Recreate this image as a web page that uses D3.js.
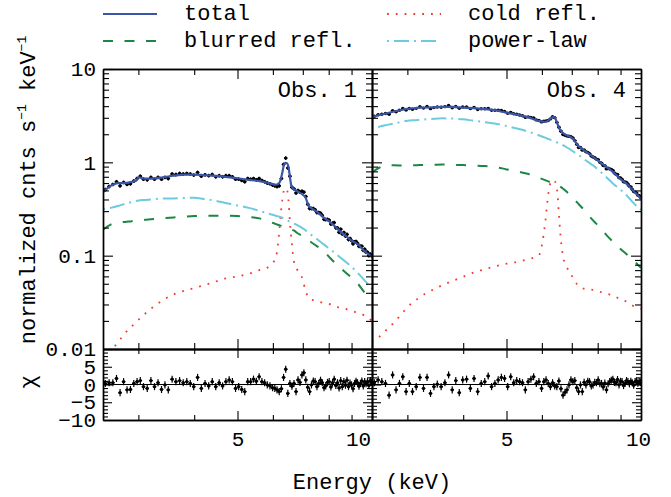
<!DOCTYPE html>
<html>
<head>
<meta charset="utf-8">
<title>Spectral fits: Obs. 1 and Obs. 4</title>
<script src="https://cdn.jsdelivr.net/npm/d3@7/dist/d3.min.js"></script>
<style>
  html, body { margin: 0; padding: 0; background: #ffffff; }
  svg { display: block; }
</style>
</head>
<body>
<svg id="chart" width="671" height="497"></svg>
<script>
// ---------------- data ----------------

// energy grid (keV) on which the model components are tabulated
const modelEnergy = [
  2.5, 2.6, 2.7, 2.8, 2.9, 2.97, 3.0, 3.1, 3.2, 3.4,
  3.6, 3.8, 4.0, 4.2, 4.4, 4.7, 5.0, 5.3, 5.6, 5.9,
  6.1, 6.2, 6.25, 6.3, 6.35, 6.4, 6.45, 6.5, 6.55, 6.6,
  6.7, 6.8, 7.0, 7.1, 7.2, 7.3, 7.5, 7.8, 8.1, 8.4,
  8.7, 9.0, 9.3, 9.6, 10.0
];

// Obs. 1 model components (normalized cnts s^-1 keV^-1)
const obs1Total = [
  0.48, 0.56, 0.60, 0.60, 0.62, 0.64, 0.69, 0.67, 0.67, 0.69,
  0.72, 0.74, 0.74, 0.73, 0.72, 0.70, 0.675, 0.65, 0.63, 0.596,
  0.575, 0.60, 0.66, 0.78, 0.93, 0.99, 0.98, 0.90, 0.70, 0.56,
  0.51, 0.49, 0.45, 0.42, 0.35, 0.325, 0.30, 0.255, 0.225, 0.19,
  0.165, 0.145, 0.132, 0.113, 0.097
];
const obs1PowerLaw = [
  0.315, 0.325, 0.34, 0.36, 0.375, 0.385, 0.39, 0.395, 0.40, 0.41,
  0.41, 0.415, 0.418, 0.405, 0.392, 0.367, 0.345, 0.325, 0.302, 0.28,
  0.267, 0.262, 0.258, 0.255, 0.25, 0.245, 0.24, 0.236, 0.232, 0.228,
  0.22, 0.212, 0.196, 0.187, 0.178, 0.168, 0.153, 0.132, 0.115, 0.10,
  0.087, 0.076, 0.065, 0.055, 0.044
];
const obs1Blurred = [
  0.19, 0.215, 0.225, 0.23, 0.234, 0.237, 0.238, 0.242, 0.245, 0.252,
  0.257, 0.262, 0.266, 0.268, 0.268, 0.268, 0.266, 0.26, 0.251, 0.23,
  0.218, 0.212, 0.21, 0.207, 0.204, 0.201, 0.198, 0.195, 0.193, 0.19,
  0.185, 0.175, 0.162, 0.155, 0.147, 0.140, 0.128, 0.112, 0.092, 0.078,
  0.067, 0.058, 0.050, 0.041, 0.034
];
const obs1Cold = [
  0.0078, 0.0095, 0.0118, 0.0148, 0.0175, 0.0195, 0.0205, 0.0237, 0.027, 0.0333,
  0.0385, 0.042, 0.045, 0.048, 0.0515, 0.057, 0.060, 0.064, 0.070, 0.077,
  0.098, 0.18, 0.28, 0.40, 0.50, 0.53, 0.51, 0.40, 0.231, 0.15,
  0.083, 0.071, 0.055, 0.042, 0.036, 0.034, 0.033, 0.031, 0.030, 0.028,
  0.027, 0.0255, 0.0245, 0.023, 0.020
];

// Obs. 4 model components
const obs4Total = [
  3.05, 3.21, 3.36, 3.50, 3.63, 3.72, 3.74, 3.80, 3.85, 3.88,
  3.93, 3.92, 3.86, 3.81, 3.74, 3.62, 3.40, 3.22, 3.03, 2.78,
  2.72, 2.80, 2.90, 2.98, 3.06, 3.06, 2.86, 2.60, 2.35, 2.22,
  2.05, 1.96, 1.83, 1.70, 1.55, 1.45, 1.32, 1.15, 1.00, 0.88,
  0.77, 0.66, 0.585, 0.50, 0.41
];
const obs4PowerLaw = [
  2.18, 2.41, 2.52, 2.60, 2.70, 2.77, 2.79, 2.83, 2.86, 2.92,
  2.96, 2.94, 2.89, 2.80, 2.72, 2.60, 2.45, 2.29, 2.13, 1.95,
  1.84, 1.78, 1.75, 1.73, 1.70, 1.67, 1.65, 1.63, 1.60, 1.58,
  1.52, 1.46, 1.34, 1.28, 1.22, 1.17, 1.06, 0.93, 0.80, 0.68,
  0.58, 0.51, 0.44, 0.37, 0.31
];
const obs4Blurred = [
  0.78, 0.88, 0.935, 0.93, 0.925, 0.922, 0.925, 0.93, 0.935, 0.94,
  0.95, 0.94, 0.935, 0.925, 0.915, 0.895, 0.84, 0.795, 0.75, 0.685,
  0.645, 0.625, 0.615, 0.605, 0.595, 0.588, 0.578, 0.57, 0.563, 0.55,
  0.52, 0.49, 0.425, 0.395, 0.37, 0.345, 0.30, 0.24, 0.20, 0.163,
  0.138, 0.118, 0.103, 0.09, 0.074
];
const obs4Cold = [
  0.0118, 0.0136, 0.0162, 0.0192, 0.0232, 0.0265, 0.028, 0.032, 0.036, 0.0425,
  0.0485, 0.054, 0.0595, 0.0655, 0.070, 0.0765, 0.082, 0.086, 0.092, 0.10,
  0.22, 0.45, 0.57, 0.62, 0.65, 0.63, 0.596, 0.47, 0.28, 0.17,
  0.095, 0.078, 0.061, 0.054, 0.049, 0.046, 0.044, 0.043, 0.041, 0.039,
  0.037, 0.034, 0.032, 0.029, 0.027
];

// spectral bins (keV) for the measured points
const binEnergy = [
  2.53, 2.58, 2.63, 2.68, 2.73, 2.78, 2.83, 2.88, 2.93, 2.98,
  3.03, 3.08, 3.14, 3.20, 3.26, 3.32, 3.38, 3.44, 3.50, 3.57,
  3.64, 3.71, 3.78, 3.85, 3.92, 3.99, 4.07, 4.15, 4.23, 4.31,
  4.39, 4.47, 4.55, 4.63, 4.71, 4.79, 4.87, 4.95, 5.03, 5.11,
  5.19, 5.27, 5.35, 5.43, 5.51, 5.59, 5.67, 5.75, 5.83, 5.91,
  5.99, 6.06, 6.13, 6.20, 6.27, 6.34, 6.41, 6.48, 6.55, 6.62,
  6.69, 6.76, 6.83, 6.90, 6.97, 7.04, 7.11, 7.18, 7.25, 7.32,
  7.39, 7.46, 7.53, 7.60, 7.67, 7.74, 7.81, 7.88, 7.95, 8.02,
  8.09, 8.16, 8.23, 8.30, 8.37, 8.44, 8.51, 8.58, 8.65, 8.72,
  8.79, 8.86, 8.93, 9.00, 9.07, 9.14, 9.21, 9.28, 9.35, 9.42,
  9.49, 9.56, 9.63, 9.70, 9.77, 9.84, 9.91, 9.98
];

// Obs. 1 measured spectrum and residuals (chi)
const obs1Flux = [
  0.51, 0.55, 0.58, 0.62, 0.56, 0.61, 0.58, 0.59, 0.63, 0.67,
  0.71, 0.66, 0.65, 0.69, 0.66, 0.69, 0.66, 0.69, 0.67, 0.75,
  0.74, 0.76, 0.75, 0.76, 0.75, 0.73, 0.78, 0.71, 0.735, 0.72,
  0.74, 0.70, 0.72, 0.70, 0.72, 0.72, 0.70, 0.66, 0.66, 0.64,
  0.62, 0.67, 0.66, 0.67, 0.65, 0.67, 0.64, 0.62, 0.60, 0.59,
  0.57, 0.56, 0.55, 0.56, 0.67, 0.95, 1.11, 0.87, 0.71, 0.54,
  0.52, 0.47, 0.50, 0.48, 0.49, 0.48, 0.43, 0.355, 0.32, 0.32,
  0.32, 0.31, 0.29, 0.29, 0.285, 0.27, 0.245, 0.244, 0.245, 0.24,
  0.218, 0.223, 0.226, 0.199, 0.198, 0.178, 0.192, 0.171, 0.177, 0.162,
  0.169, 0.149, 0.153, 0.145, 0.134, 0.141, 0.142, 0.136, 0.126, 0.126,
  0.126, 0.114, 0.117, 0.109, 0.109, 0.10, 0.104, 0.10
];
const obs1Chi = [
  0.3, 0.5, 0.5, 1.7, -2.3, 0.8, -1.5, -1.4, 0.3, 0.8,
  1.1, -0.6, -1.1, 1.1, -0.6, 0.5, -1.4, -0.1, -1.5, 1.5,
  0.8, 1.1, 0.5, 0.8, 0.3, -0.6, 2.0, -1.1, 0.3, -0.4,
  0.8, -0.6, 0.5, -0.4, 0.8, 1.3, 0.8, -1.1, -0.6, -1.4,
  -2.0, 0.8, 0.8, 1.5, 0.9, 2.2, 0.8, 0.5, -0.1, -0.4,
  -0.9, -1.1, -1.5, -2.0, -1.2, 2.0, 4.3, -2.5, 0.3, -0.5,
  0.3, -2.0, 1.3, 0.6, 2.7, 3.3, 1.3, -0.8, -2.0, -0.1,
  1.0, 0.8, -0.6, 0.3, 1.2, 0.5, -0.9, -0.4, 0.6, 0.8,
  -0.7, 0.5, 1.5, -0.3, 0.5, -1.0, 1.1, -0.6, 0.8, -0.2,
  1.2, -0.6, 0.4, -0.1, -1.2, 0.3, 0.9, 0.5, -0.5, 0.3,
  1.0, -0.4, 0.8, 0.2, 0.8, -0.3, 1.1, 0.6
];

// Obs. 4 measured spectrum and residuals (chi)
const obs4Flux = [
  3.12, 3.23, 3.28, 3.34, 3.28, 3.58, 3.48, 3.61, 3.77, 3.64,
  3.77, 3.70, 3.79, 3.94, 3.81, 3.96, 3.76, 3.86, 3.91, 3.89,
  3.95, 4.06, 3.85, 3.96, 3.79, 3.92, 3.91, 3.77, 3.88, 3.68,
  3.75, 3.75, 3.79, 3.62, 3.62, 3.62, 3.59, 3.51, 3.36, 3.43,
  3.31, 3.28, 3.22, 3.16, 3.03, 3.07, 3.02, 2.99, 2.85, 2.81,
  2.71, 2.76, 2.78, 2.81, 2.92, 3.08, 3.01, 2.68, 2.38, 2.15,
  1.99, 1.95, 1.91, 1.90, 1.88, 1.82, 1.71, 1.56, 1.44, 1.44,
  1.35, 1.36, 1.30, 1.28, 1.24, 1.17, 1.14, 1.12, 1.08, 1.07,
  1.00, 0.98, 0.925, 0.92, 0.85, 0.865, 0.85, 0.84, 0.82, 0.77,
  0.745, 0.74, 0.685, 0.68, 0.657, 0.62, 0.615, 0.61, 0.584, 0.553,
  0.545, 0.513, 0.487, 0.48, 0.47, 0.445, 0.438, 0.42
];
const obs4Chi = [
  0.5, 1.3, 0.8, 0.3, -3.0, 2.7, -1.5, 0.3, 2.2, -2.0,
  0.3, -2.0, -0.6, 2.0, -1.1, 2.0, -2.5, -0.6, 0.1, -0.6,
  0.5, 2.7, -1.5, 1.1, -2.3, 1.3, 1.5, -1.1, 1.7, -2.0,
  0.3, 0.8, 2.4, -0.6, 0.3, 1.3, 2.0, 1.7, -0.6, 2.2,
  0.5, 1.1, 0.8, 0.5, -1.5, 0.8, 1.5, 2.2, 0.3, 0.8,
  -1.1, 0.8, 1.3, 0.3, -0.6, 0.5, -0.4, -0.6, 1.0, -1.2,
  -3.0, -2.2, -1.5, -0.1, 1.3, 0.8, 1.1, -0.9, -2.0, -0.1,
  -2.0, 0.6, -0.1, 0.9, 0.8, -0.4, -0.1, 0.6, 0.5, 1.3,
  0.2, 0.3, -0.7, 0.4, -1.5, 0.2, 0.8, 1.2, 1.5, 0.6,
  0.5, 1.4, -0.1, 0.9, 0.8, -0.3, 0.3, 1.1, 0.8, 0.2,
  0.9, 0.5, -0.2, 0.8, 1.0, 0.4, 0.8, 0.6
];

// typical fractional 1-sigma error of the measured points
const obs1RelErr = 0.045;
const obs4RelErr = 0.015;

// panel names, legend entries and axis ticks
const panelNames = ["Obs. 1", "Obs. 4"];
const legendLabels = ["total", "blurred refl.", "cold refl.", "power-law"];
const energyRange = [2.5, 10];
const energyTicks = [5, 10];
const energyTickLabels = ["5", "10"];
const energyMinorTicks = [3, 4, 6, 7, 8, 9];
const fluxRange = [0.01, 10];
const fluxTicks = [0.01, 0.1, 1, 10];
const fluxTickLabels = ["0.01", "0.1", "1", "10"];
const fluxMinorTicks = [
  0.02, 0.03, 0.04, 0.05, 0.06, 0.07, 0.08, 0.09,
  0.2, 0.3, 0.4, 0.5, 0.6, 0.7, 0.8, 0.9,
  2, 3, 4, 5, 6, 7, 8, 9
];
const chiRange = [-10, 10];
const chiTicks = [-10, -5, 0, 5, 10];
const chiTickLabels = ["\u221210", "\u22125", "0", "5", ""];
const chiMinorTicks = [-9, -8, -7, -6, -4, -3, -2, -1, 1, 2, 3, 4, 6, 7, 8, 9];

// ---------------- drawing ----------------

const FONT = '"Liberation Mono", "Courier New", "DejaVu Sans Mono", monospace';
const INK = "#000000";
const styles = {
  total:    { color: "#3b55a6", width: 2.2, dash: null },
  blurred:  { color: "#1d8646", width: 2.0, dash: "10,11.5" },
  cold:     { color: "#f23a32", width: 1.8, dash: "1.8,7" },
  powerLaw: { color: "#6ccbdc", width: 2.0, dash: "2,5,15,5" }
};

const svg = d3.select("#chart");
svg.append("rect").attr("width", 671).attr("height", 497).attr("fill", "#ffffff");
const defs = svg.append("defs");

const frame = { top: 69, mid: 349, bottom: 420 };
const panelEdges = [[103, 372], [372, 641]];
// nudges for the "10" label at the right end of each energy axis
const lastLabelShift = [-14, -3];

const yFlux = d3.scaleLog().domain(fluxRange).range([frame.mid, frame.top]);
const yChi = d3.scaleLinear().domain(chiRange).range([frame.bottom, frame.mid]);

const observations = [
  { name: panelNames[0], total: obs1Total, powerLaw: obs1PowerLaw, blurred: obs1Blurred,
    cold: obs1Cold, flux: obs1Flux, chi: obs1Chi, relErr: obs1RelErr },
  { name: panelNames[1], total: obs4Total, powerLaw: obs4PowerLaw, blurred: obs4Blurred,
    cold: obs4Cold, flux: obs4Flux, chi: obs4Chi, relErr: obs4RelErr }
];

function styleAxis(sel, showLabels) {
  sel.attr("font-family", FONT).attr("font-size", 21);
  sel.selectAll(".domain").attr("stroke", INK).attr("stroke-width", 1.4);
  sel.selectAll(".tick line").attr("stroke", INK).attr("stroke-width", 1.1);
  sel.selectAll(".tick text").attr("fill", INK);
  if (!showLabels) sel.selectAll(".tick text").remove();
}

function addAxis(parent, axis, tx, ty, showLabels) {
  const g = parent.append("g").attr("transform", `translate(${tx},${ty})`).call(axis);
  styleAxis(g, showLabels);
  return g;
}

observations.forEach((obs, i) => {
  const [x0, x1] = panelEdges[i];
  const x = d3.scaleLog().domain(energyRange).range([x0, x1]);
  const panel = svg.append("g").attr("class", "panel");

  const clipTop = `clip-top-${i}`;
  const clipRes = `clip-res-${i}`;
  defs.append("clipPath").attr("id", clipTop).append("rect")
    .attr("x", x0).attr("y", frame.top).attr("width", x1 - x0).attr("height", frame.mid - frame.top);
  defs.append("clipPath").attr("id", clipRes).append("rect")
    .attr("x", x0).attr("y", frame.mid).attr("width", x1 - x0).attr("height", frame.bottom - frame.mid);

  const modelLine = d3.line()
    .x((d, k) => x(modelEnergy[k]))
    .y(d => yFlux(d))
    .curve(d3.curveMonotoneX);

  // ----- spectrum panel -----
  const spec = panel.append("g").attr("clip-path", `url(#${clipTop})`);

  ["cold", "blurred", "powerLaw"].forEach(key => {
    const s = styles[key];
    spec.append("path")
      .attr("d", modelLine(obs[key]))
      .attr("fill", "none")
      .attr("stroke", s.color)
      .attr("stroke-width", s.width)
      .attr("stroke-dasharray", s.dash);
  });

  const specPoints = spec.append("g").selectAll("g")
    .data(binEnergy.map((e, k) => ({ e, f: obs.flux[k] })))
    .join("g");
  specPoints.append("line")
    .attr("x1", d => x(d.e)).attr("x2", d => x(d.e))
    .attr("y1", d => yFlux(d.f * (1 - obs.relErr)))
    .attr("y2", d => yFlux(d.f * (1 + obs.relErr)))
    .attr("stroke", INK).attr("stroke-width", 1.2);
  specPoints.append("line")
    .attr("x1", d => x(d.e) - 1.8).attr("x2", d => x(d.e) + 1.8)
    .attr("y1", d => yFlux(d.f)).attr("y2", d => yFlux(d.f))
    .attr("stroke", INK).attr("stroke-width", 1.2);
  specPoints.append("circle")
    .attr("cx", d => x(d.e)).attr("cy", d => yFlux(d.f)).attr("r", 1.7)
    .attr("fill", INK);

  spec.append("path")
    .attr("d", modelLine(obs.total))
    .attr("fill", "none")
    .attr("stroke", styles.total.color)
    .attr("stroke-width", styles.total.width)
    .attr("stroke-linejoin", "round");

  // ----- residual panel -----
  const res = panel.append("g").attr("clip-path", `url(#${clipRes})`);
  res.append("line")
    .attr("x1", x0).attr("x2", x1)
    .attr("y1", yChi(0)).attr("y2", yChi(0))
    .attr("stroke", INK).attr("stroke-width", 1.1);
  const resPoints = res.append("g").selectAll("g")
    .data(binEnergy.map((e, k) => ({ e, c: obs.chi[k] })))
    .join("g");
  resPoints.append("line")
    .attr("x1", d => x(d.e)).attr("x2", d => x(d.e))
    .attr("y1", d => yChi(d.c - 1)).attr("y2", d => yChi(d.c + 1))
    .attr("stroke", INK).attr("stroke-width", 1.2);
  resPoints.append("line")
    .attr("x1", d => x(d.e) - 1.8).attr("x2", d => x(d.e) + 1.8)
    .attr("y1", d => yChi(d.c)).attr("y2", d => yChi(d.c))
    .attr("stroke", INK).attr("stroke-width", 1.2);
  resPoints.append("circle")
    .attr("cx", d => x(d.e)).attr("cy", d => yChi(d.c)).attr("r", 1.7)
    .attr("fill", INK);

  // ----- axes: spectrum panel -----
  const axes = panel.append("g");
  const first = i === 0;
  addAxis(axes, d3.axisLeft(yFlux).tickValues(fluxTicks).tickSize(-10).tickSizeOuter(0)
    .tickPadding(7).tickFormat((d, k) => fluxTickLabels[k]), x0, 0, first);
  addAxis(axes, d3.axisLeft(yFlux).tickValues(fluxMinorTicks).tickSize(-6).tickSizeOuter(0)
    .tickFormat(""), x0, 0, false);
  addAxis(axes, d3.axisRight(yFlux).tickValues(fluxTicks).tickSize(-10).tickSizeOuter(0)
    .tickFormat(""), x1, 0, false);
  addAxis(axes, d3.axisRight(yFlux).tickValues(fluxMinorTicks).tickSize(-6).tickSizeOuter(0)
    .tickFormat(""), x1, 0, false);
  addAxis(axes, d3.axisTop(x).tickValues(energyTicks).tickSize(-10).tickSizeOuter(0)
    .tickFormat(""), 0, frame.top, false);
  addAxis(axes, d3.axisTop(x).tickValues(energyMinorTicks).tickSize(-6).tickSizeOuter(0)
    .tickFormat(""), 0, frame.top, false);
  addAxis(axes, d3.axisBottom(x).tickValues(energyTicks).tickSize(-10).tickSizeOuter(0)
    .tickFormat(""), 0, frame.mid, false);
  addAxis(axes, d3.axisBottom(x).tickValues(energyMinorTicks).tickSize(-6).tickSizeOuter(0)
    .tickFormat(""), 0, frame.mid, false);

  // ----- axes: residual panel -----
  addAxis(axes, d3.axisLeft(yChi).tickValues(chiTicks).tickSize(-9).tickSizeOuter(0)
    .tickPadding(7).tickFormat((d, k) => chiTickLabels[k]), x0, 0, first);
  addAxis(axes, d3.axisLeft(yChi).tickValues(chiMinorTicks).tickSize(-5).tickSizeOuter(0)
    .tickFormat(""), x0, 0, false);
  addAxis(axes, d3.axisRight(yChi).tickValues(chiTicks).tickSize(-9).tickSizeOuter(0)
    .tickFormat(""), x1, 0, false);
  addAxis(axes, d3.axisRight(yChi).tickValues(chiMinorTicks).tickSize(-5).tickSizeOuter(0)
    .tickFormat(""), x1, 0, false);
  addAxis(axes, d3.axisTop(x).tickValues(energyTicks).tickSize(-9).tickSizeOuter(0)
    .tickFormat(""), 0, frame.mid, false);
  addAxis(axes, d3.axisTop(x).tickValues(energyMinorTicks).tickSize(-5).tickSizeOuter(0)
    .tickFormat(""), 0, frame.mid, false);
  const bottomAxis = addAxis(axes, d3.axisBottom(x).tickValues(energyTicks).tickSize(-9)
    .tickSizeOuter(0).tickPadding(11).tickFormat((d, k) => energyTickLabels[k]),
    0, frame.bottom, true);
  bottomAxis.selectAll(".tick text")
    .attr("dx", (d, k) => (k === energyTicks.length - 1 ? lastLabelShift[i] : 0));
  addAxis(axes, d3.axisBottom(x).tickValues(energyMinorTicks).tickSize(-5).tickSizeOuter(0)
    .tickFormat(""), 0, frame.bottom, false);

  // panel name
  panel.append("text")
    .attr("x", x1 - 15).attr("y", 97)
    .attr("text-anchor", "end")
    .attr("font-family", FONT).attr("font-size", 22).attr("fill", INK)
    .text(obs.name);
});

// ----- axis titles -----
svg.append("text")
  .attr("x", 372).attr("y", 489)
  .attr("text-anchor", "middle")
  .attr("font-family", FONT).attr("font-size", 22).attr("fill", INK)
  .text("Energy (keV)");

const yTitle = svg.append("text")
  .attr("transform", "translate(35,190) rotate(-90)")
  .attr("text-anchor", "middle")
  .attr("font-family", FONT).attr("font-size", 22).attr("fill", INK);
yTitle.append("tspan").text("normalized cnts s");
yTitle.append("tspan").attr("font-size", 13).attr("dy", -9).text("\u22121");
yTitle.append("tspan").attr("dy", 9).text(" keV");
yTitle.append("tspan").attr("font-size", 13).attr("dy", -9).text("\u22121");

svg.append("text")
  .attr("transform", "translate(35,382) rotate(-90)")
  .attr("text-anchor", "middle")
  .attr("font-family", FONT).attr("font-size", 22).attr("fill", INK)
  .text("\u03c7");

// ----- legend -----
const legendEntries = [
  { label: legendLabels[0], style: styles.total,    x: 103, y: 14 },
  { label: legendLabels[1], style: styles.blurred,  x: 103, y: 41 },
  { label: legendLabels[2], style: styles.cold,     x: 387, y: 14 },
  { label: legendLabels[3], style: styles.powerLaw, x: 387, y: 41 }
];
const legend = svg.append("g").selectAll("g").data(legendEntries).join("g");
legend.append("line")
  .attr("x1", d => d.x).attr("x2", d => d.x + 54)
  .attr("y1", d => d.y).attr("y2", d => d.y)
  .attr("stroke", d => d.style.color)
  .attr("stroke-width", d => d.style.width)
  .attr("stroke-dasharray", d => d.style.dash);
legend.append("text")
  .attr("x", d => d.x + 81).attr("y", d => d.y + 6)
  .attr("font-family", FONT).attr("font-size", 22).attr("fill", INK)
  .text(d => d.label);
</script>
</body>
</html>
